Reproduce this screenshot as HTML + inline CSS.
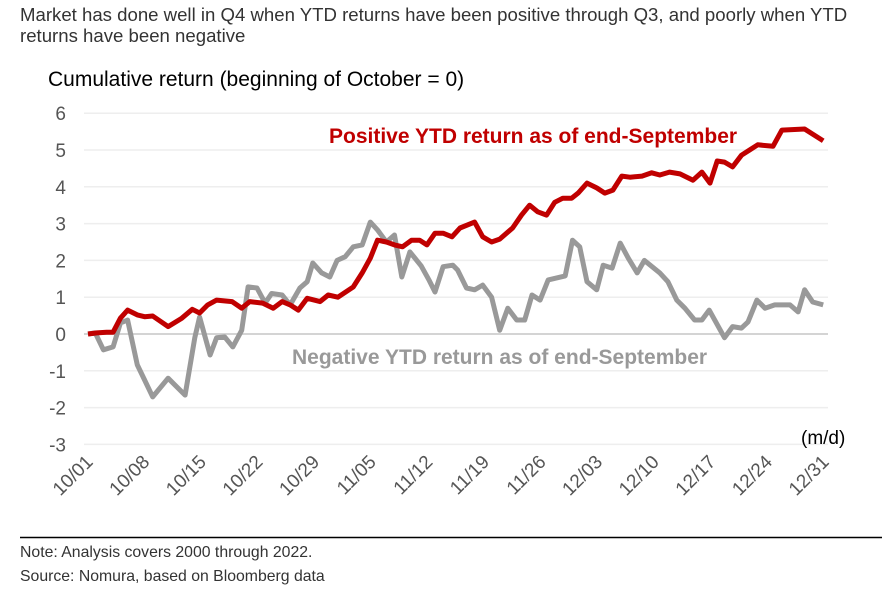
<!DOCTYPE html>
<html><head><meta charset="utf-8"><style>
body{margin:0;background:#fff;width:895px;height:592px;overflow:hidden;font-family:"Liberation Sans",sans-serif}
</style></head><body>
<svg width="895" height="592" font-family="Liberation Sans, sans-serif">
<text x="20" y="21" font-size="18.6" fill="#333">Market has done well in Q4 when YTD returns have been positive through Q3, and poorly when YTD</text>
<text x="20" y="42" font-size="18.6" fill="#333">returns have been negative</text>
<text x="48" y="86" font-size="21" fill="#000">Cumulative return (beginning of October = 0)</text>
<g id="grid"></g><g id="ylabels"></g><g id="xlabels"></g><g id="lines"></g>
<text x="329" y="143" font-size="21" font-weight="bold" fill="#c00000">Positive YTD return as of end-September</text>
<text x="292" y="364" font-size="21" font-weight="bold" fill="#999">Negative YTD return as of end-September</text>
<text x="801" y="444" font-size="19" fill="#000">(m/d)</text>
<line x1="20" y1="537.5" x2="882" y2="537.5" stroke="#000" stroke-width="1.5"/>
<text x="20" y="557" font-size="15.8" fill="#333">Note: Analysis covers 2000 through 2022.</text>
<text x="20" y="581" font-size="15.8" fill="#333">Source: Nomura, based on Bloomberg data</text>
</svg>
<script>
const yTicks=[6,5,4,3,2,1,0,-1,-2,-3];
const xTickDays=[0,7,14,21,28,35,42,49,56,63,70,77,84,91];
const xTickLabels=["10/01","10/08","10/15","10/22","10/29","11/05","11/12","11/19","11/26","12/03","12/10","12/17","12/24","12/31"];
const posDays=[0,1.1,2.3,3.1,4,4.9,6.1,7,8,9.9,11.6,12.9,13.8,14.8,15.9,17.8,19,20,21.6,22.9,24,25,26,27.1,28.7,29.7,30.9,32.8,33.9,34.9,35.8,36.9,37.9,38.9,40,41,41.9,42.9,43.9,45,46,47.8,48.8,49.9,50.9,52.5,53.6,54.6,55.6,56.7,57.7,58.7,59.8,60.6,61.7,62.9,63.9,64.9,66,67,68.5,69.7,70.7,71.9,73.2,74.8,75.9,76.9,77.8,78.7,79.7,80.8,81.8,82.8,84.7,85.8,88.6,90.9];
const posValues=[0,0.03,0.05,0.05,0.43,0.65,0.52,0.47,0.49,0.2,0.43,0.67,0.57,0.79,0.92,0.88,0.7,0.88,0.84,0.7,0.88,0.79,0.65,0.97,0.88,1.06,1.0,1.28,1.66,2.06,2.55,2.5,2.42,2.37,2.55,2.55,2.42,2.74,2.74,2.64,2.88,3.04,2.64,2.5,2.58,2.88,3.23,3.5,3.32,3.23,3.58,3.69,3.69,3.83,4.1,3.97,3.83,3.91,4.29,4.26,4.29,4.38,4.32,4.4,4.35,4.18,4.4,4.1,4.7,4.67,4.54,4.86,5.0,5.14,5.1,5.54,5.57,5.25];
const negDays=[0,0.9,1.9,3.1,4,4.9,6.1,7,8,9.9,12,13.2,13.8,15.1,15.9,16.9,17.9,19,19.8,20.9,21.9,22.7,24,25,26.2,27.1,27.8,28.9,29.9,30.8,31.8,32.8,33.9,34.9,35.8,36.9,37.9,38.8,39.8,41.2,42.2,42.9,43.9,45.1,45.7,46.8,47.8,48.8,49.9,50.9,51.9,53,54,54.9,55.9,56.9,59,59.9,60.8,61.7,62.9,63.7,64.8,65.8,66.8,67.9,68.8,70.7,71.7,72.8,73.8,75,75.9,76.8,78.7,79.7,80.8,81.6,82.7,83.7,84.9,86.8,87.8,88.6,89.6,90.9];
const negValues=[0,0.03,-0.43,-0.35,0.3,0.38,-0.84,-1.25,-1.71,-1.2,-1.66,-0.1,0.46,-0.57,-0.1,-0.08,-0.35,0.1,1.28,1.25,0.84,1.1,1.06,0.79,1.25,1.42,1.93,1.66,1.55,2.0,2.1,2.37,2.42,3.04,2.83,2.5,2.69,1.55,2.23,1.85,1.45,1.14,1.83,1.87,1.74,1.25,1.2,1.33,1.0,0.1,0.7,0.38,0.38,1.06,0.92,1.47,1.58,2.55,2.37,1.42,1.2,1.87,1.79,2.47,2.06,1.66,2.0,1.66,1.42,0.92,0.7,0.38,0.38,0.65,-0.1,0.2,0.16,0.33,0.92,0.7,0.79,0.79,0.6,1.2,0.87,0.79];
const NS="http://www.w3.org/2000/svg";
const X0=88,X1=824,Y0=334,PU=36.8;
const xs=d=>X0+(X1-X0)*d/91;
const ys=v=>Y0-PU*v;
function mk(t,a,p){const e=document.createElementNS(NS,t);for(const k in a)e.setAttribute(k,a[k]);p.appendChild(e);return e;}
const grid=document.getElementById('grid'),yl=document.getElementById('ylabels'),xl=document.getElementById('xlabels'),ln=document.getElementById('lines');
yTicks.forEach(v=>{
 const g=mk('line',{x1:84,x2:828,y1:ys(v),y2:ys(v),stroke:v===0?'#d4d4d4':'#eeeeee','stroke-width':v===0?2:1.5},grid);
 
 
 const t=mk('text',{x:66,y:ys(v)+7,'font-size':19,fill:'#555','text-anchor':'end'},yl);
 t.textContent=String(v);
 
 
});
xTickDays.forEach((d,i)=>{
 const x=xs(d)+6,y=463;
 const t=mk('text',{x:x,y:y,'font-size':19,fill:'#555','text-anchor':'end',transform:`rotate(-45 ${x} ${y})`},xl);
 t.textContent=xTickLabels[i];
 
 
});
function line(days,vals,color,name){
 const pts=days.map((d,i)=>xs(d).toFixed(1)+','+ys(vals[i]).toFixed(1)).join(' ');
 const p=mk('polyline',{points:pts,fill:'none',stroke:color,'stroke-width':5,'stroke-linejoin':'round'},ln);
 
 
}
line(negDays,negValues,'#999999','negative-ytd-line');
line(posDays,posValues,'#c00000','positive-ytd-line');
</script>
</body></html>
